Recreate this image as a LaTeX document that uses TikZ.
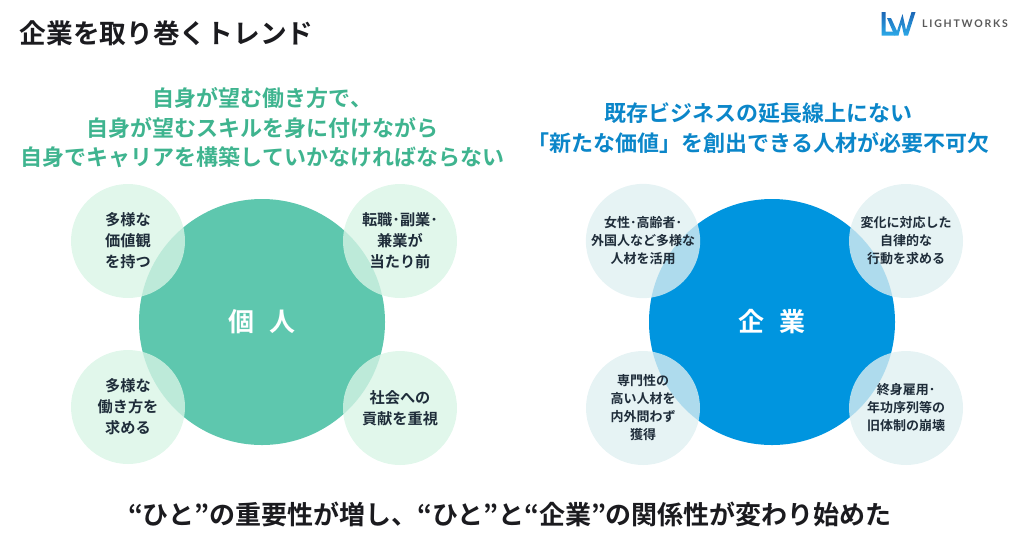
\documentclass[tikz,border=0pt]{standalone}
\usepackage{fontspec}
\usepackage{tikz}
\setmainfont{Noto Sans CJK JP}[BoldFont={Noto Sans CJK JP Bold}]
\newfontfamily\logofont{Lato}
\definecolor{titleink}{HTML}{1B1B1F}
\definecolor{labelink}{HTML}{1F2D3A}
\definecolor{greenhead}{HTML}{3FB48F}
\definecolor{bluehead}{HTML}{0B86C9}
\definecolor{greenbig}{HTML}{5EC7AE}
\definecolor{bluebig}{HTML}{0095DF}
\definecolor{greensmall}{HTML}{D9F5E6}
\definecolor{bluesmall}{HTML}{DFEFF1}
\definecolor{logotop}{HTML}{1B66B5}
\definecolor{logobottom}{HTML}{2CA9E8}

\begin{document}
\begin{tikzpicture}[x=1pt, y=-1pt, thick]
      \tikzstyle{head}=[align=center, font=\bfseries\fontsize{22}{29.5}\selectfont]
      \tikzstyle{big}=[circle, minimum size=246pt, inner sep=0pt, text=white, font=\bfseries\fontsize{26}{30}\selectfont]
      \tikzstyle{small}=[circle, minimum size=114pt, inner sep=0pt, align=center, text=labelink, fill opacity=0.78, text opacity=1]
      \tikzstyle{lefttext}=[small, fill=greensmall, font=\bfseries\fontsize{15.2}{21}\selectfont]
      \tikzstyle{righttext}=[small, fill=bluesmall, font=\bfseries\fontsize{13}{18}\selectfont]
      \tikzstyle{logoshade}=[top color=logotop, bottom color=logobottom, draw=none]

      \useasboundingbox (0,0) rectangle (1024,542);

      \node[anchor=west, text=titleink, font=\bfseries\fontsize{26.7}{30}\selectfont] (title) at (16,33) {企業を取り巻くトレンド};

      % logo
      \shade[logoshade] (881.5,12) -- (885.5,12) -- (885.5,31.5) -- (895,31.5) -- (895,35.5) -- (881.5,35.5) -- cycle;
      \shade[logoshade] (887,18) -- (891,18) -- (897,31) -- (902.5,14) -- (906,30) -- (911.5,12) -- (915.5,12) -- (908,35.5) -- (904,35.5) -- (901.5,24) -- (898.5,35.5) -- (894.5,35.5) -- cycle;
      \node[anchor=west, text=black!65, font=\logofont\bfseries\fontsize{10.5}{12}\selectfont] (logo) at (918.5,24) {L\,I\,G\,H\,T\,W\,O\,R\,K\,S};

      \node[head, text=greenhead] (headP) at (262.5,128) {自身が望む働き方で、\\自身が望むスキルを身に付けながら\\自身でキャリアを構築していかなければならない};
      \node[head, text=bluehead] (headC) at (758.5,128) {既存ビジネスの延長線上にない\\「新たな価値」を創出できる人材が必要不可欠};

      \node[big, fill=greenbig] (P) at (262,322) {\raisebox{1pt}{個\hspace{0.6em}人}};
      \node[big, fill=bluebig] (C) at (772,322) {\raisebox{1pt}{企\hspace{0.6em}業}};

      \node[lefttext] (P1) at (128,241) {多様な\\価値観\\を持つ};
      \node[lefttext] (P2) at (400,241) {転職･副業･\\兼業が\\当たり前};
      \node[lefttext] (P3) at (128,407) {多様な\\働き方を\\求める};
      \node[lefttext] (P4) at (400,408) {社会への\\貢献を重視};

      \node[righttext] (C1) at (643,241) {女性･高齢者･\\外国人など多様な\\人材を活用};
      \node[righttext] (C2) at (906,241) {変化に対応した\\自律的な\\行動を求める};
      \node[righttext] (C3) at (643,408) {専門性の\\高い人材を\\内外問わず\\獲得};
      \node[righttext] (C4) at (906,408) {終身雇用･\\年功序列等の\\旧体制の崩壊};

      \node[text=titleink, font=\bfseries\fontsize{26}{30}\selectfont] (bottom) at (510,514) {“ひと”の重要性が増し、“ひと”と“企業”の関係性が変わり始めた};
\end{tikzpicture}
\end{document}
